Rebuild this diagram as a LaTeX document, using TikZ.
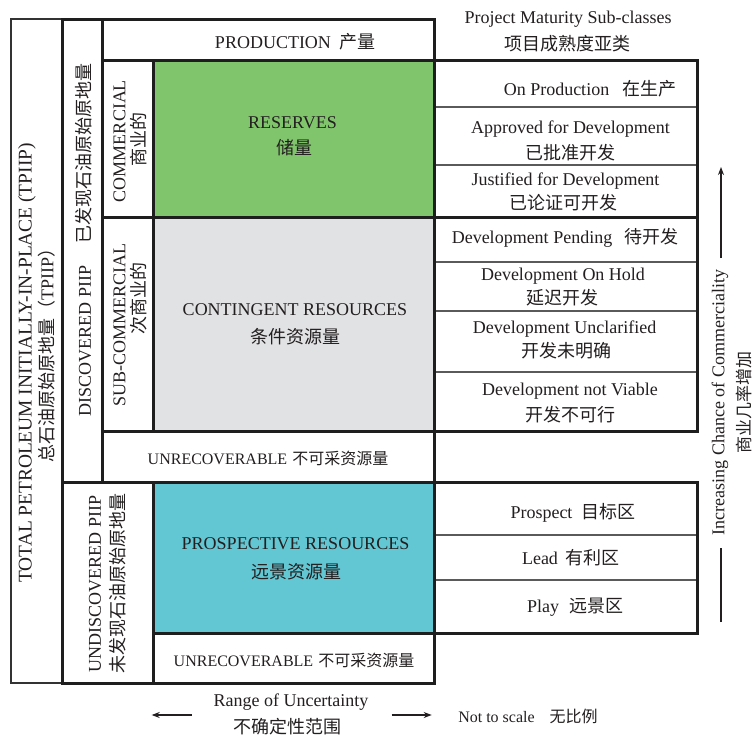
\documentclass[tikz,border=0pt]{standalone}
\usepackage{fontspec}
\setmainfont{Liberation Serif}
\newfontfamily\cjk{Noto Sans CJK SC}
\usetikzlibrary{arrows.meta}
\definecolor{ink}{HTML}{231F20}
\definecolor{framec}{HTML}{1E1E1E}
\definecolor{outerc}{HTML}{333333}
\definecolor{thinl}{HTML}{5A5A5A}
\definecolor{resg}{HTML}{80C56C}
\definecolor{cong}{HTML}{E1E2E4}
\definecolor{prosc}{HTML}{63C6D3}
\newcommand\bx[6]{\node[#6, minimum width={(#4-#2)*1pt}, minimum height={(#5-#3)*1pt}] (#1) at ({(#2+#4)/2},{(#3+#5)/2}) {};}
\begin{document}
\begin{tikzpicture}[x=1pt,y=-1pt,
  every node/.style={inner sep=0pt, outer sep=0pt, text=ink},
  thickbox/.style={draw=framec, line width=3pt},
  outerbox/.style={draw=outerc, line width=2pt},
  rowbox/.style={draw=thinl, line width=1.2pt},
  txt/.style={font=\fontsize{18}{21}\selectfont},
  bigtxt/.style={font=\fontsize{19.4}{22}\selectfont},
  smalltxt/.style={font=\fontsize{16}{19}\selectfont},
  vert/.style={rotate=90},
  arr/.style={draw=ink, line width=1.2pt, -{Stealth[length=8pt,width=6pt]}},
  plain/.style={draw=ink, line width=1.2pt}
]
\useasboundingbox (0,0) rectangle (753,736);
\fill[white] (0,0) rectangle (753,736);

% main boxes
\bx{tpiip}{11}{19}{62}{683}{outerbox}
\bx{disc}{62}{19}{434}{482}{thickbox}
\bx{prod}{102}{19}{434}{60}{thickbox}
\bx{comm}{102}{60}{153}{217}{thickbox}
\bx{res}{153}{60}{434}{217}{thickbox, fill=resg}
\bx{sub}{102}{217}{153}{431}{thickbox}
\bx{con}{153}{217}{434}{431}{thickbox, fill=cong}
\bx{unrA}{102}{431}{434}{482}{thickbox}
\bx{und}{62}{482}{153}{683}{thickbox}
\bx{pros}{153}{482}{434}{633}{thickbox, fill=prosc}
\bx{unrB}{153}{633}{434}{683}{thickbox}

% right column rows
\bx{rA}{434}{60}{697}{107}{rowbox}
\bx{rB}{434}{107}{697}{165}{rowbox}
\bx{rC}{434}{165}{697}{217}{rowbox}
\bx{rD}{434}{217}{697}{262}{rowbox}
\bx{rE}{434}{262}{697}{311}{rowbox}
\bx{rF}{434}{311}{697}{372}{rowbox}
\bx{rG}{434}{372}{697}{431}{rowbox}
\bx{rH}{434}{482}{697}{535}{rowbox}
\bx{rI}{434}{535}{697}{580}{rowbox}
\bx{rJ}{434}{580}{697}{633}{rowbox}
\draw[thickbox] (rA.north west) rectangle (rC.south east);
\draw[thickbox] (rD.north west) rectangle (rG.south east);
\draw[thickbox] (rH.north west) rectangle (rJ.south east);

% vertical labels
\node[bigtxt, vert] (tpE) at (27,363) {TOTAL PETROLEUM INITIALLY-IN-PLACE (TPIIP)};
\node[txt, vert] (tpC) at (46.5,351) {{\cjk 总石油原始原地量（}TPIIP{\cjk ）}};
\node[txt, vert] (discT) at (84,240) {DISCOVERED PIIP\hspace{22pt}{\cjk 已发现石油原始原地量}};
\node[txt, vert] (commE) at (119.5,141) {COMMERCIAL};
\node[txt, vert] (commC) at (138.5,139) {\cjk 商业的};
\node[txt, vert] (subE) at (119.5,325) {SUB-COMMERCIAL};
\node[txt, vert] (subC) at (138.5,298) {\cjk 次商业的};
\node[txt, vert] (undE) at (95,584) {UNDISCOVERED PIIP};
\node[txt, vert] (undC) at (118,583.5) {\cjk 未发现石油原始原地量};

% middle labels
\node[txt] (prodT) at (295,41.7) {PRODUCTION\hspace{8pt}{\cjk 产量}};
\node[txt] (resE) at (292.5,122.5) {RESERVES};
\node[txt] (resC) at (294.7,148) {\cjk 储量};
\node[txt] (conE) at (295,310) {CONTINGENT RESOURCES};
\node[txt] (conC) at (295,337) {\cjk 条件资源量};
\node[smalltxt] (unrAT) at (268,458) {UNRECOVERABLE\hspace{5pt}{\cjk 不可采资源量}};
\node[txt] (prosE) at (295.5,544) {PROSPECTIVE RESOURCES};
\node[txt] (prosC) at (296,571.7) {\cjk 远景资源量};
\node[smalltxt] (unrBT) at (294,660) {UNRECOVERABLE\hspace{5pt}{\cjk 不可采资源量}};

% right labels
\node[txt] (pmE) at (568,19) {Project Maturity Sub-classes};
\node[txt] (pmC) at (567.5,44) {\cjk 项目成熟度亚类};
\node[txt] (onT) at (590,89) {On Production\hspace{13pt}{\cjk 在生产}};
\node[txt] (appE) at (570.5,129) {Approved for Development};
\node[txt] (appC) at (570,152.5) {\cjk 已批准开发};
\node[txt] (jusE) at (565.5,181) {Justified for Development};
\node[txt] (jusC) at (563,202.5) {\cjk 已论证可开发};
\node[txt] (pendT) at (565,237.5) {Development Pending\hspace{12pt}{\cjk 待开发}};
\node[txt] (holdE) at (563,276) {Development On Hold};
\node[txt] (holdC) at (562.5,297.5) {\cjk 延迟开发};
\node[txt] (uncE) at (564.7,329) {Development Unclarified};
\node[txt] (uncC) at (566.7,351) {\cjk 开发未明确};
\node[txt] (nvE) at (570,391) {Development not Viable};
\node[txt] (nvC) at (570,415) {\cjk 开发不可行};
\node[txt] (prospT) at (573,513) {Prospect\hspace{9pt}{\cjk 目标区}};
\node[txt] (leadT) at (571,558) {Lead\hspace{8pt}{\cjk 有利区}};
\node[txt] (playT) at (575,607) {Play\hspace{10pt}{\cjk 远景区}};

% commerciality arrow
\node[txt, vert] (incE) at (720,402.5) {Increasing Chance of Commerciality};
\node[vert, font=\fontsize{17}{20}\selectfont] (incC) at (743.5,402) {\cjk 商业几率增加};
\coordinate (caBot) at (721,622);
\coordinate (caLow) at (721,548);
\coordinate (caHigh) at (721,258);
\coordinate (caTop) at (721,167);
\draw[plain] (caBot) -- (caLow);
\draw[arr] (caHigh) -- (caTop);

% uncertainty arrows
\node[txt] (rangeE) at (291,702.5) {Range of Uncertainty};
\node[txt] (rangeC) at (287.5,726.7) {\cjk 不确定性范围};
\coordinate (laS) at (191.7,715);
\coordinate (laE) at (151.7,715);
\coordinate (raS) at (391.7,715);
\coordinate (raE) at (431.7,715);
\draw[arr] (laS) -- (laE);
\draw[arr] (raS) -- (raE);
\node[smalltxt] (ntsT) at (528,716) {Not to scale\hspace{15pt}{\cjk 无比例}};
\end{tikzpicture}
\end{document}
